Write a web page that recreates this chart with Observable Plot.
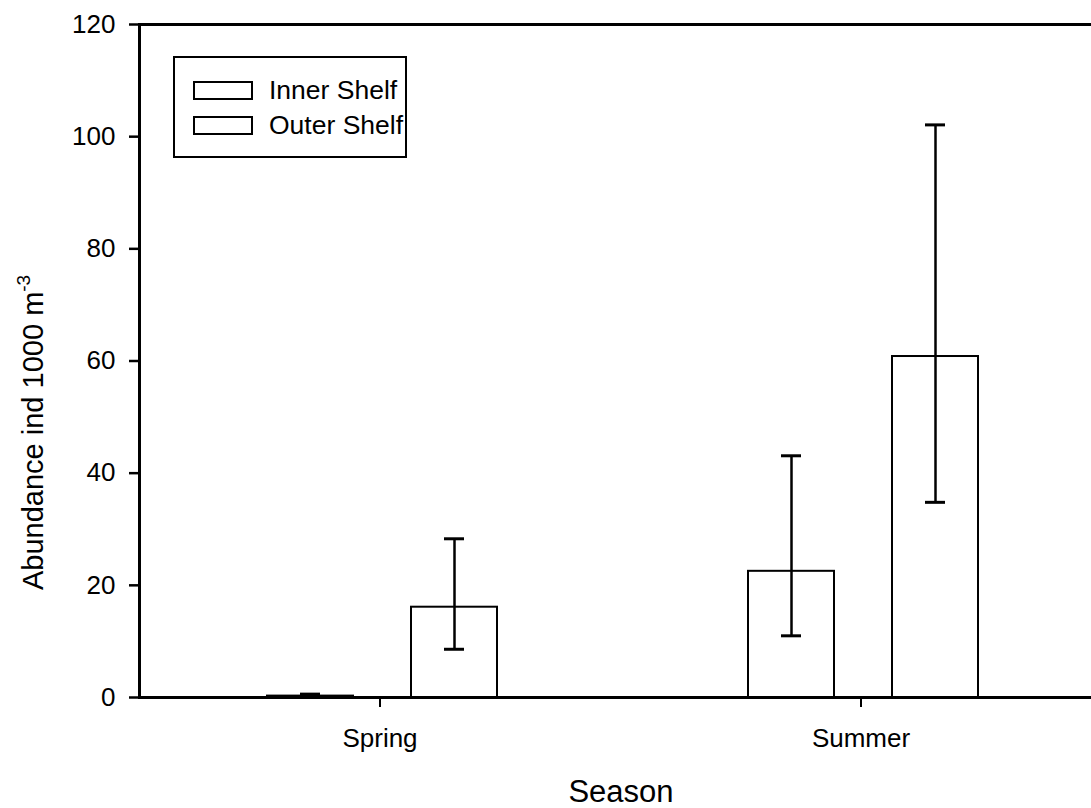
<!DOCTYPE html>
<html>
<head>
<meta charset="utf-8">
<script src="https://cdn.jsdelivr.net/npm/d3@7"></script>
<script src="https://cdn.jsdelivr.net/npm/@observablehq/plot@0.6"></script>
<style>
  html, body { margin: 0; padding: 0; background: #fff; overflow: hidden; }
  #chart { position: relative; width: 1091px; height: 808px; font-family: "Liberation Sans", Arial, sans-serif; color: #000; }
  #chart svg { display: block; }
  .legend { position: absolute; left: 173px; top: 56px; width: 234px; height: 102px; box-sizing: border-box; border: 2px solid #000; background: #fff; }
  .legend .sw { position: absolute; left: 18px; width: 60px; height: 19px; box-sizing: border-box; border: 2px solid #000; background: #fff; }
  .legend .lab { position: absolute; left: 94px; font-size: 26.5px; line-height: 26px; white-space: nowrap; }
</style>
</head>
<body>
<div id="chart"></div>
<script>
// Seasonal abundance (ind 1000 m^-3) by shelf region, with asymmetric error bars
const seasons = ["Spring", "Summer"];
const shelves = ["Inner Shelf", "Outer Shelf"];
const meanInner = [0.25, 22.5];
const meanOuter = [16.1, 60.8];
const lowerInner = [0, 11.0];
const lowerOuter = [8.6, 34.8];
const upperInner = [0.6, 43.1];
const upperOuter = [28.3, 102.1];
const yTicks = [0, 20, 40, 60, 80, 100, 120];

const rows = [];
seasons.forEach((s, i) => {
  rows.push({season: s, shelf: shelves[0], mean: meanInner[i], lower: lowerInner[i], upper: upperInner[i]});
  rows.push({season: s, shelf: shelves[1], mean: meanOuter[i], lower: lowerOuter[i], upper: upperOuter[i]});
});

const font = "Liberation Sans, Arial, sans-serif";

const plot = Plot.plot({
  width: 1091,
  height: 808,
  marginTop: 24,
  marginBottom: 111,
  marginLeft: 139,
  marginRight: 0,
  style: {fontFamily: font, fontSize: "25px", color: "#000", background: "#fff"},
  fx: {domain: seasons, range: [139, 1101], paddingInner: 0, paddingOuter: 0, label: null},
  x: {domain: shelves, paddingInner: 0.4, paddingOuter: 0.86, align: 0.51, axis: null},
  y: {domain: [0, 120], label: null},
  marks: [
    Plot.barY(rows, {fx: "season", x: "shelf", y: "mean", fill: "white", stroke: "black", strokeWidth: 2}),
    Plot.ruleX(rows, {fx: "season", x: "shelf", y1: "lower", y2: "upper", stroke: "black", strokeWidth: 2.5}),
    Plot.tickY(rows, {fx: "season", x: "shelf", y: "upper", stroke: "black", strokeWidth: 3, insetLeft: 33, insetRight: 33}),
    Plot.tickY(rows, {fx: "season", x: "shelf", y: "lower", stroke: "black", strokeWidth: 3, insetLeft: 33, insetRight: 33}),
    Plot.ruleY([0], {stroke: "black", strokeWidth: 3}),
    Plot.ruleY([120], {stroke: "black", strokeWidth: 3}),
    Plot.frame({anchor: "left", facetAnchor: "left", stroke: "black", strokeWidth: 3}),
    Plot.axisY({ticks: yTicks, tickSize: 10, tickPadding: 14, strokeWidth: 2.5, fontSize: 26, label: null}),
    Plot.axisFx({anchor: "bottom", tickSize: 10, tickPadding: 21, strokeWidth: 2, fontSize: 26, label: null})
  ]
});

const chart = document.getElementById("chart");
chart.appendChild(plot);

// Axis titles
const svg = d3.select(plot);
svg.append("text")
  .attr("x", 621).attr("y", 802)
  .attr("text-anchor", "middle")
  .attr("font-family", font).attr("font-size", 31).attr("fill", "#000")
  .text("Season");

const yl = svg.append("text")
  .attr("transform", "translate(43,590) rotate(-90)")
  .attr("text-anchor", "start")
  .attr("font-family", font).attr("font-size", 29).attr("fill", "#000");
yl.append("tspan").text("Abundance ind 1000 m");
yl.append("tspan").attr("dy", -13).attr("font-size", 19).text("-3");

// Legend box
const legend = document.createElement("div");
legend.className = "legend";
[["Inner Shelf", 23, 18.5], ["Outer Shelf", 58, 54.3]].forEach(([name, swTop, labTop]) => {
  const sw = document.createElement("div");
  sw.className = "sw";
  sw.style.top = swTop + "px";
  legend.appendChild(sw);
  const lab = document.createElement("div");
  lab.className = "lab";
  lab.style.top = labTop + "px";
  lab.textContent = name;
  legend.appendChild(lab);
});
chart.appendChild(legend);
</script>
</body>
</html>
